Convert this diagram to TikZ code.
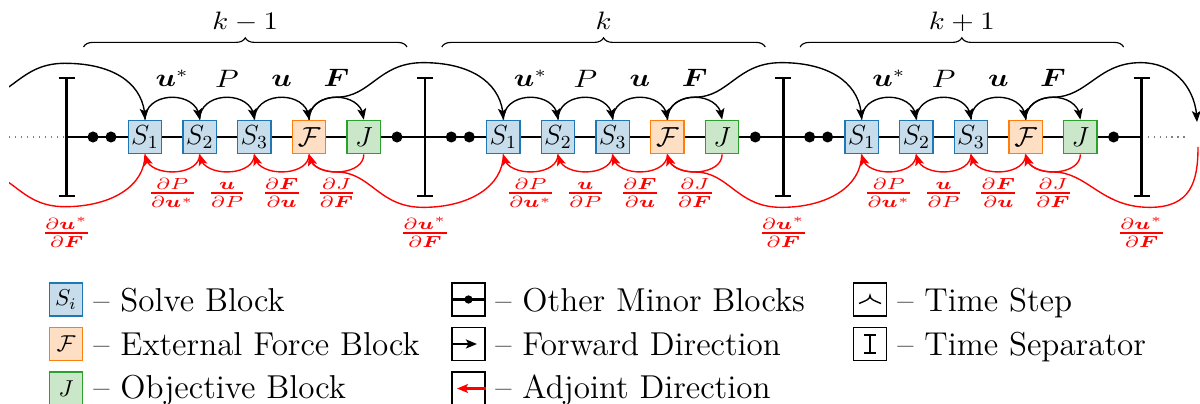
\documentclass[tikz,border=0pt]{standalone}
\usepackage{amsmath}
\usepackage{graphicx}
\usetikzlibrary{arrows.meta,bending,calc,decorations.pathreplacing}
\definecolor{bblue}{RGB}{31,119,180}
\definecolor{bbluef}{RGB}{199,221,236}
\definecolor{borange}{RGB}{255,127,14}
\definecolor{borangef}{RGB}{255,223,195}
\definecolor{bgreen}{RGB}{44,160,44}
\definecolor{bgreenf}{RGB}{202,231,202}
\tikzset{
  x=0.435pt, y=0.435pt,
  blk/.style={draw, line width=0.6pt, minimum size=14.5pt, inner sep=0pt, font=\fontsize{11.5}{13}\selectfont},
  sblk/.style={blk, draw=bblue, fill=bbluef},
  fblk/.style={blk, draw=borange, fill=borangef},
  jblk/.style={blk, draw=bgreen, fill=bgreenf},
  tip/.style={-{Stealth[length=4.8pt,width=3.9pt,inset=1.1pt]}},
  fw/.style={line width=0.6pt, tip},
  adj/.style={fw, red},
  mainline/.style={line width=0.95pt},
  sepline/.style={line width=1.2pt},
  dotn/.style={circle, fill, inner sep=0pt, minimum size=4.8pt},
  lbl/.style={inner sep=0pt, anchor=base, font=\fontsize{10.5}{12}\selectfont},
  klbl/.style={inner sep=0pt, anchor=base, font=\fontsize{11}{13}\selectfont},
  rlbl/.style={inner sep=0pt, anchor=base, text=red, font=\fontsize{10.5}{12}\selectfont},
  bracestyle/.style={decorate, decoration={brace, amplitude=4pt}, line width=0.5pt},
  legbox/.style={draw, line width=0.6pt, minimum size=14.5pt, inner sep=0pt},
  legtxt/.style={inner sep=0pt, anchor=base west, font=\Large},
}
\newcommand\rfrac[2]{\scalebox{1.3}[1]{$\genfrac{}{}{0.85pt}{1}{#1}{#2}$}}
\newcommand\wlab[1]{\scalebox{1.2}[1]{$#1$}}
\newcommand\fwlong[2]{%
  \draw[fw] (#1) .. controls ($(#1)+(0,15)$) and ($(#1)+(13.68,22.5)$) .. ($(#1)+(27.35,22.5)$)
    .. controls ($(#1)+(62,22.5)$) and ($(#1)+(69,57)$) .. ($(#1)+(114,57)$)
    .. controls ($(#1)+(164,57)$) and ($(#2)+(0,35)$) .. (#2);}
\newcommand\adjlong[2]{%
  \draw[adj] (#1) .. controls ($(#1)+(0,-32)$) and ($(#2)+(160,-53)$) .. ($(#2)+(114,-53)$)
    .. controls ($(#2)+(69,-53)$) and ($(#2)+(62,-17.66)$) .. ($(#2)+(27.35,-17.66)$)
    .. controls ($(#2)+(13.68,-17.66)$) and ($(#2)+(0,-11.78)$) .. (#2);}
\begin{document}
\begin{tikzpicture}
\useasboundingbox (0,0) rectangle (1200,-404);
\begin{scope}
\clip (9,0) rectangle (1200,-260);
% main line
\coordinate (T0) at (66.7,-137);
\coordinate (T3) at (1141.6,-137);
\coordinate (Lend) at (9,-137);
\coordinate (Rend) at (1185,-137);
\draw[line width=0.6pt, dotted, gray] (Lend) -- (T0);
\draw[line width=0.6pt, dotted, gray] (T3) -- (Rend);
\draw[mainline] (T0) -- (T3);
\foreach \p in {0,1,2,3}{
  \draw[sepline] (66.7+\p*358.3,-78) -- (66.7+\p*358.3,-196)
    (58.7+\p*358.3,-78) -- (74.7+\p*358.3,-78)
    (58.7+\p*358.3,-196) -- (74.7+\p*358.3,-196);
  \node[rlbl] at (66.7+\p*358.3,-239) {\rfrac{\partial\boldsymbol{u}^*}{\partial\boldsymbol{F}}};
}
\foreach \p in {0,1,2}{
\begin{scope}[shift={(\p*358.3,0)}]
  \node[dotn] (da\p) at (93,-137) {};
  \node[dotn] (db\p) at (111,-137) {};
  \node[dotn] (dc\p) at (397,-137) {};
  \node[sblk] (S1\p) at (145,-137) {$S_1$};
  \node[sblk] (S2\p) at (199.7,-137) {$S_2$};
  \node[sblk] (S3\p) at (254.4,-137) {$S_3$};
  \node[fblk] (F\p) at (309.1,-137) {$\mathcal{F}$};
  \node[jblk] (J\p) at (363.8,-137) {$J$};
  \draw[fw] (S1\p.north) to[out=90,in=90,looseness=1.4] (S2\p.north);
  \draw[fw] (S2\p.north) to[out=90,in=90,looseness=1.4] (S3\p.north);
  \draw[fw] (S3\p.north) to[out=90,in=90,looseness=1.4] (F\p.north);
  \draw[fw] (F\p.north) to[out=90,in=90,looseness=1.4] (J\p.north);
  \draw[adj] (S2\p.south) to[out=-90,in=-90,looseness=1.1] (S1\p.south);
  \draw[adj] (S3\p.south) to[out=-90,in=-90,looseness=1.1] (S2\p.south);
  \draw[adj] (F\p.south) to[out=-90,in=-90,looseness=1.1] (S3\p.south);
  \draw[adj] (J\p.south) to[out=-90,in=-90,looseness=1.1] (F\p.south);
  \node[lbl] at (172.3,-87) {\wlab{\boldsymbol{u}^*}};
  \node[lbl] at (227,-87.5) {\wlab{P}};
  \node[lbl] at (281.7,-87) {\wlab{\boldsymbol{u}}};
  \node[lbl] at (336.4,-87) {\wlab{\boldsymbol{F}}};
  \node[rlbl] at (172.3,-199) {\rfrac{\partial P}{\partial\boldsymbol{u}^*}};
  \node[rlbl] at (227,-199) {\rfrac{\boldsymbol{u}}{\partial P}};
  \node[rlbl] at (281.7,-199) {\rfrac{\partial\boldsymbol{F}}{\partial\boldsymbol{u}}};
  \node[rlbl] at (336.4,-199) {\rfrac{\partial J}{\partial\boldsymbol{F}}};
  \draw[bracestyle] (83.5,-47) -- (407,-47);
\end{scope}
}
\node[klbl] at (245.3,-30) {\scalebox{1.15}[1]{$k-1$}};
\node[klbl] at (603.6,-30) {\scalebox{1.15}[1]{$k$}};
\node[klbl] at (961.9,-30) {\scalebox{1.15}[1]{$k+1$}};
% long connectors between periods
\coordinate (Fmn) at (-49.2,-120.3);
\coordinate (Fms) at (-49.2,-153.7);
\coordinate (E1) at (1197,-122);
\coordinate (E2) at (1198,-147);
\fwlong{Fmn}{S10.north}
\fwlong{F0.north}{S11.north}
\fwlong{F1.north}{S12.north}
\draw[fw] (F2.north) .. controls ($(F2.north)+(0,15)$) and ($(F2.north)+(13.68,22.5)$) .. ($(F2.north)+(27.35,22.5)$)
    .. controls ($(F2.north)+(62,22.5)$) and ($(F2.north)+(72,57)$) .. ($(F2.north)+(115,57)$)
    .. controls ($(F2.north)+(150,57)$) and ($(E1)+(0,32)$) .. (E1);
\adjlong{S10.south}{Fms}
\adjlong{S11.south}{F0.south}
\adjlong{S12.south}{F1.south}
\draw[adj] (E2) .. controls ($(E2)+(0,-35)$) and ($(F2.south)+(165,-53)$) .. ($(F2.south)+(124,-53)$)
    .. controls ($(F2.south)+(75,-53)$) and ($(F2.south)+(62,-17.66)$) .. ($(F2.south)+(27.35,-17.66)$)
    .. controls ($(F2.south)+(13.68,-17.66)$) and ($(F2.south)+(0,-11.78)$) .. (F2.south);
\end{scope}
% legend
\node[sblk, font=\normalsize] (LS) at (66,-299.5) {$S_i$};
\node[fblk, font=\normalsize] (LF) at (66,-344) {$\mathcal{F}$};
\node[jblk, font=\normalsize] (LJ) at (66,-388.5) {$J$};
\node[legtxt] (tS) at (93,-312) {-- Solve Block};
\node[legtxt] (tF) at (93,-356) {-- External Force Block};
\node[legtxt] (tJ) at (93,-399) {-- Objective Block};
\node[legbox] (L1) at (468.5,-299.5) {};
\node[legbox] (L2) at (468.5,-344) {};
\node[legbox] (L3) at (468.5,-388.5) {};
\draw[mainline] (L1.west) -- (L1.east);
\node[dotn, minimum size=3.6pt] (L1d) at (L1) {};
\coordinate (L2t) at (477,-344);
\coordinate (L3t) at (457,-388.5);
\draw[mainline, tip] (L2.west) -- (L2t);
\draw[mainline, tip, red] (L3.east) -- (L3t);
\node[legtxt] (tO) at (495,-312) {-- Other Minor Blocks};
\node[legtxt] (tW) at (495,-356) {-- Forward Direction};
\node[legtxt] (tA) at (495,-399) {-- Adjoint Direction};
\node[legbox] (L4) at (870,-299.5) {};
\node[legbox] (L5) at (870,-344) {};
\draw[line width=0.6pt] ($(L4)+(-11,-4)$) .. controls ($(L4)+(-4,-1)$) and ($(L4)+(0,0)$) .. ($(L4)+(0,4)$)
   .. controls ($(L4)+(0,0)$) and ($(L4)+(4,-1)$) .. ($(L4)+(11,-4)$);
\draw[line width=0.9pt] ($(L5)+(0,9)$) -- ($(L5)+(0,-9)$)
   ($(L5)+(-6,9)$) -- ($(L5)+(6,9)$) ($(L5)+(-6,-9)$) -- ($(L5)+(6,-9)$);
\node[legtxt] (tT) at (897,-312) {-- Time Step};
\node[legtxt] (tP) at (897,-356) {-- Time Separator};
\end{tikzpicture}
\end{document}
